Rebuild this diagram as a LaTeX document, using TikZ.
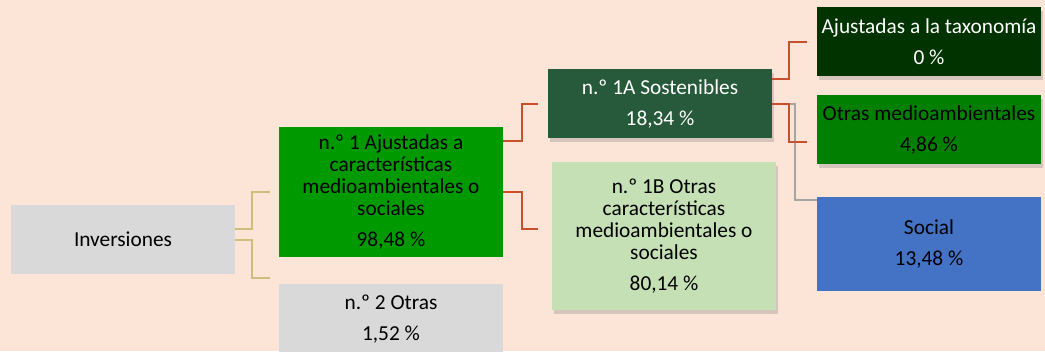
\documentclass[tikz,border=0pt]{standalone}
\usepackage{fontspec}
\setmainfont{Carlito}
\usetikzlibrary{shadows}
\definecolor{bgpeach}{HTML}{FCE4D6}
\definecolor{boxgray}{HTML}{D9D9D9}
\definecolor{greenone}{HTML}{009900}
\definecolor{greenonea}{HTML}{275A3B}
\definecolor{greenoneb}{HTML}{C5E0B4}
\definecolor{taxgreen}{HTML}{003300}
\definecolor{otrasgreen}{HTML}{007F00}
\definecolor{socblue}{HTML}{4472C4}
\definecolor{linkred}{HTML}{C8502D}
\definecolor{linktan}{HTML}{CDBE7E}
\definecolor{linkgray}{HTML}{A5A5A5}
\tikzset{
  box/.style={minimum width=168pt, inner sep=0pt, align=center,
    font=\fontsize{16}{16.5}\selectfont},
  boxshade/.style={drop shadow={shadow xshift=1.5pt, shadow yshift=-3pt, opacity=.3}},
  tanl/.style={draw=linktan, line width=1.5pt},
  redl/.style={draw=linkred, line width=1.5pt},
  grayl/.style={draw=linkgray, line width=1.1pt}
}
\begin{document}
\begin{tikzpicture}[x=0.75pt, y=-0.75pt]
    \fill[bgpeach] (0,0) rectangle (1045,351);
    \useasboundingbox (0,0) rectangle (1045,351);
    \node[box, fill=boxgray, minimum height=51.75pt] (inv) at (123,239.5) {Inversiones};
    \node[box, fill=greenone, minimum height=97.5pt] (n1) at (391,192) {n.º 1 Ajustadas a\\características\\medioambientales o\\sociales\\[6.75pt]98,48 \%};
    \node[box, fill=boxgray, minimum height=52.5pt] (n2) at (391,319) {n.º 2 Otras\\[6.75pt]1,52 \%};
    \node[box, boxshade, fill=greenonea, text=white, minimum height=51.75pt] (s1a) at (660,103.5) {n.º 1A Sostenibles\\[6.75pt]18,34 \%};
    \node[box, boxshade, fill=greenoneb, minimum height=111pt] (s1b) at (664,236) {n.º 1B Otras\\características\\medioambientales o\\sociales\\[6.75pt]80,14 \%};
    \node[box, boxshade, fill=taxgreen, text=white, minimum height=51.75pt] (tax) at (929,41.5) {Ajustadas a la taxonomía\\[6.75pt]0 \%};
    \node[box, boxshade, fill=otrasgreen, minimum height=51.75pt] (oma) at (929,129.5) {Otras medioambientales\\[6.75pt]4,86 \%};
    \node[box, fill=socblue, minimum height=70.5pt] (soc) at (929,244) {Social\\[6.75pt]13,48 \%};
    % level 1
    \coordinate (n2in) at (270,278);
    \draw[tanl, shorten >=6.75pt] (inv.east |- 0,229) -- (252,229) |- (n1.west);
    \draw[tanl] (inv.east |- 0,240) -- (252,240) |- (n2in);
    % level 2
    \coordinate (s1bin) at (538,229);
    \draw[redl, shorten >=7.5pt] (n1.east |- 0,141) -- (522,141) |- (s1a.west);
    \draw[redl] (n1.east) -- (522,192) |- (s1bin);
    % level 3
    \coordinate (omain) at (807,142);
    \draw[grayl] (s1a.east |- 0,104) -- (795,104) |- (soc.west |- 0,200);
    \draw[redl, shorten >=7.5pt] (s1a.east |- 0,79) -- (789,79) |- (tax.west);
    \draw[redl] (s1a.east |- 0,104) -- (789,104) |- (omain);
\end{tikzpicture}
\end{document}
